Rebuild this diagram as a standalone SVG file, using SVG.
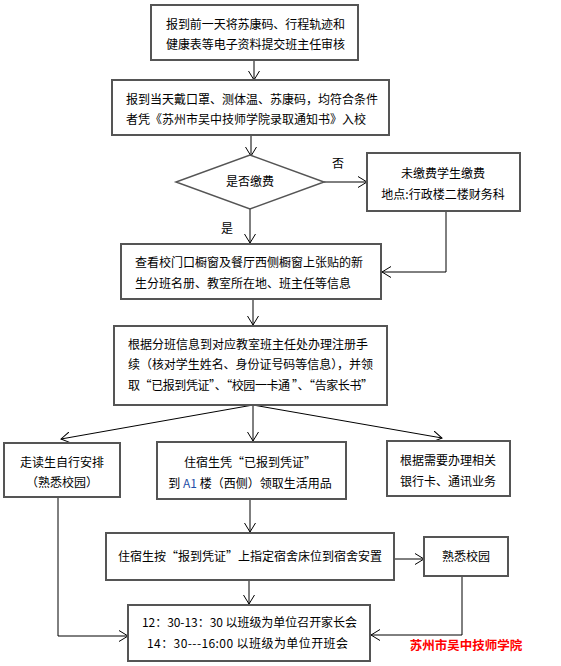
<svg xmlns="http://www.w3.org/2000/svg" width="561" height="666" viewBox="0 0 561 666">
<style>
.box{fill:#fff;stroke:#555;stroke-width:2}
.t{font-family:"Noto Sans CJK SC","Noto Sans",sans-serif;font-size:12px;fill:#000}
.c{text-anchor:middle}
.ln{fill:none;stroke:#000;stroke-width:1}
</style>
<defs>
<marker id="ar" markerWidth="10" markerHeight="12" refX="9" refY="6" orient="auto" markerUnits="userSpaceOnUse">
<path d="M0,0.5 L9,6 L0,11.5" fill="none" stroke="#000" stroke-width="1"/>
</marker>
</defs>
<rect width="561" height="666" fill="#fff"/>
<g id="connectors">
<line class="ln" x1="254" y1="60" x2="254" y2="80" marker-end="url(#ar)"/>
<line class="ln" x1="251" y1="135" x2="251" y2="156" marker-end="url(#ar)"/>
<line class="ln" x1="324" y1="182" x2="367" y2="182" marker-end="url(#ar)"/>
<text class="t" x="338" y="168" text-anchor="middle">否</text>
<polyline class="ln" points="446,211 446,272 382,272" marker-end="url(#ar)"/>
<line class="ln" x1="250" y1="209" x2="250" y2="243" marker-end="url(#ar)"/>
<text class="t" x="227" y="233" text-anchor="middle">是</text>
<line class="ln" x1="253" y1="299" x2="253" y2="325" marker-end="url(#ar)"/>
<line class="ln" x1="253" y1="405" x2="61" y2="439" marker-end="url(#ar)"/>
<line class="ln" x1="253" y1="405" x2="253" y2="441" marker-end="url(#ar)"/>
<line class="ln" x1="253" y1="405" x2="442" y2="438" marker-end="url(#ar)"/>
<line class="ln" x1="250" y1="499" x2="250" y2="532" marker-end="url(#ar)"/>
<line class="ln" x1="394" y1="559" x2="424" y2="559" marker-end="url(#ar)"/>
<line class="ln" x1="249" y1="580" x2="249" y2="604" marker-end="url(#ar)"/>
<polyline class="ln" points="58,497 58,636 128,636" marker-end="url(#ar)"/>
<polyline class="ln" points="462,576 462,635 371,635" marker-end="url(#ar)"/>
</g>
<g id="n1">
<rect class="box" x="151" y="5" width="207" height="55"/>
<text class="t" x="166" y="29" textLength="179">报到前一天将苏康码、行程轨迹和</text>
<text class="t" x="166" y="49" textLength="179">健康表等电子资料提交班主任审核</text>
</g>
<g id="n2">
<rect class="box" x="112" y="80" width="277" height="55"/>
<text class="t" x="126" y="104" textLength="252">报到当天戴口罩、测体温、苏康码，均符合条件</text>
<text class="t" x="126" y="124" textLength="240">者凭《苏州市吴中技师学院录取通知书》入校</text>
</g>
<g id="n3">
<polygon points="250,155 324,182 250,209 176,182" fill="#fff" stroke="#555" stroke-width="1.5"/>
<text class="t c" x="250" y="186">是否缴费</text>
</g>
<g id="n4">
<rect class="box" x="367" y="153" width="153" height="58"/>
<text class="t c" x="443" y="178">未缴费学生缴费</text>
<text class="t c" x="443" y="199">地点:行政楼二楼财务科</text>
</g>
<g id="n5">
<rect class="box" x="121" y="244" width="260" height="55"/>
<text class="t" x="135" y="267" textLength="228">查看校门口橱窗及餐厅西侧橱窗上张贴的新</text>
<text class="t" x="135" y="288" textLength="216">生分班名册、教室所在地、班主任等信息</text>
</g>
<g id="n6">
<rect class="box" x="114" y="326" width="273" height="79"/>
<text class="t" x="128" y="349" textLength="240">根据分班信息到对应教室班主任处办理注册手</text>
<text class="t" x="128" y="369" textLength="245">续（核对学生姓名、身份证号码等信息），并领</text>
<text class="t" x="128" y="390" textLength="245">取“已报到凭证”、“校园一卡通 ”、“告家长书”</text>
</g>
<g id="n7">
<rect class="box" x="4" y="443" width="116" height="54"/>
<text class="t c" x="62" y="467">走读生自行安排</text>
<text class="t c" x="62" y="487">（熟悉校园）</text>
</g>
<g id="n8">
<rect class="box" x="157" y="442" width="189" height="57"/>
<text class="t c" x="250" y="467">住宿生凭“已报到凭证”</text>
<text class="t c" x="250" y="488">到 <tspan fill="#1f4fa8">A1</tspan> 楼（西侧）领取生活用品</text>
</g>
<g id="n9">
<rect class="box" x="387" y="441" width="123" height="55"/>
<text class="t c" x="448" y="465">根据需要办理相关</text>
<text class="t c" x="448" y="486">银行卡、通讯业务</text>
</g>
<g id="n10">
<rect class="box" x="106" y="533" width="288" height="47"/>
<text class="t c" x="250" y="561">住宿生按“报到凭证”上指定宿舍床位到宿舍安置</text>
</g>
<g id="n11">
<rect class="box" x="424" y="537" width="84" height="39"/>
<text class="t c" x="466" y="561">熟悉校园</text>
</g>
<g id="n12">
<rect class="box" x="128" y="605" width="242" height="56"/>
<text class="t" x="142" y="627" textLength="215">12：30-13：30 以班级为单位召开家长会</text>
<text class="t" x="147" y="648" textLength="201">14：30---16:00 以班级为单位开班会</text>
</g>
<text x="466" y="650" text-anchor="middle" font-family="Noto Sans CJK SC, sans-serif" font-size="12.5" font-weight="bold" fill="#ff0000">苏州市吴中技师学院</text>
</svg>
